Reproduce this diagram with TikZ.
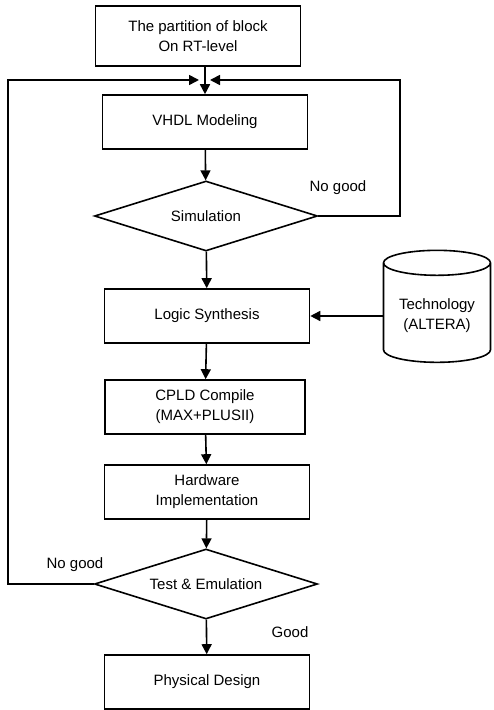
\documentclass[tikz,border=0pt]{standalone}
\usepackage{fontspec}
\setmainfont{Liberation Sans}
\usetikzlibrary{positioning,shapes.geometric,arrows.meta}

\begin{document}
\begin{tikzpicture}[
    x=0.5pt,y=-0.5pt,
    line width=0.8pt,
    font=\fontsize{7.5}{10}\selectfont,
    >={Triangle[length=5pt,width=5pt]},
    procbox/.style={draw, align=center, inner sep=1pt,
                    minimum width=102.5pt, minimum height=27pt},
    decision/.style={draw, diamond, aspect=3.2, inner sep=0pt,
                     minimum width=111.5pt, minimum height=35pt},
    store/.style={draw, cylinder, shape border rotate=90, aspect=0.28,
                  align=center, minimum width=53.5pt, minimum height=56pt},
    note/.style={inner sep=1pt},]

    \useasboundingbox (0,0) rectangle (493,710);

    % main column
    \node[procbox, minimum height=30pt] (part)  at (198,36)  {The partition of block\\On RT-level};
    \node[procbox] (vhdl)   at (205,122) {VHDL Modeling};
    \node[decision] (sim)   at (206,216) {Simulation};
    \node[procbox] (logic)  at (207,316) {Logic Synthesis};
    \node[procbox, minimum width=100pt] (cpld) at (205,407) {CPLD Compile\\(MAX+PLUSII)};
    \node[procbox] (hw)     at (207,492) {Hardware\\Implementation};
    \node[decision] (test)  at (206,584) {Test \& Emulation};
    \node[procbox] (phys)   at (207,682) {Physical Design};

    % library on the right
    \node[store] (tech) at (437,316) {Technology\\(ALTERA)};

    % feedback corners
    \coordinate (fbL)   at (8,80);
    \coordinate (fbR)   at (400,80);
    \coordinate (joinL) at (199,80);
    \coordinate (joinR) at (210,80);

    \draw[->] (part.south -| vhdl.north) -- (vhdl.north);
    \draw[->] (vhdl) -- (sim);
    \draw[->] (sim) -- (logic);
    \draw[->] (logic) -- (cpld);
    \draw[->] (cpld) -- (hw);
    \draw[->] (hw) -- (test);
    \draw[->] (test) -- (phys);
    \draw[->] (tech.west) -- (tech.west -| logic.east);

    \draw[->] (sim.east) -- (sim.east -| fbR) -- (fbR) -- (joinR);
    \draw[->] (test.west) -- (test.west -| fbL) -- (fbL) -- (joinL);

    \node[note] (ng1)  at (338,188) {No good};
    \node[note] (ng2)  at (75,565)  {No good};
    \node[note] (good) at (290,632) {Good};

\end{tikzpicture}
\end{document}
